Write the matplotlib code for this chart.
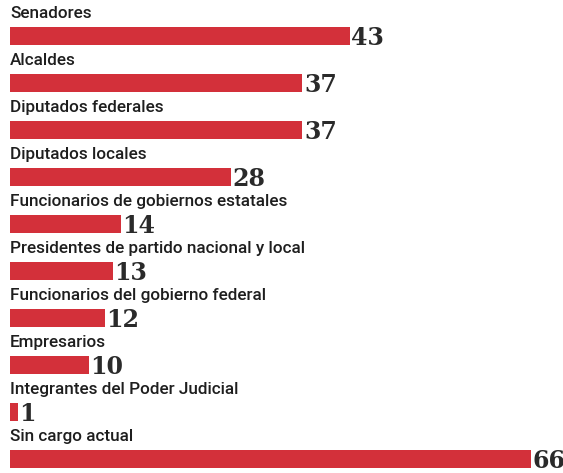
import matplotlib
matplotlib.use("Agg")
from matplotlib import pyplot as plt

categories = [
    "Senadores",
    "Alcaldes",
    "Diputados federales",
    "Diputados locales",
    "Funcionarios de gobiernos estatales",
    "Presidentes de partido nacional y local",
    "Funcionarios del gobierno federal",
    "Empresarios",
    "Integrantes del Poder Judicial",
    "Sin cargo actual",
]
values = [43, 37, 37, 28, 14, 13, 12, 10, 1, 66]

fig = plt.figure(figsize=(5.63, 4.73), dpi=100)
ax = fig.add_axes([0, 0, 1, 1])

ys = list(range(len(categories)))
ax.barh(ys, values, height=0.39, left=0, color="#d3303a")

for y, cat, v in zip(ys, categories, values):
    ax.text(0, y - 0.48, cat, ha="left", va="center", fontsize=12.3,
            family=["Roboto", "DejaVu Sans"], fontweight="medium", color="#1e1e1e")
    ax.text(v + 0.2, y + 0.04, str(v), ha="left", va="center", fontsize=17,
            family="DejaVu Serif", fontweight="bold", color="#2a2a2a")

ax.set_xlim(-1.27, 70.0)
ax.set_ylim(9.30, -0.77)
ax.axis("off")

fig.savefig("out.png", dpi=100)
